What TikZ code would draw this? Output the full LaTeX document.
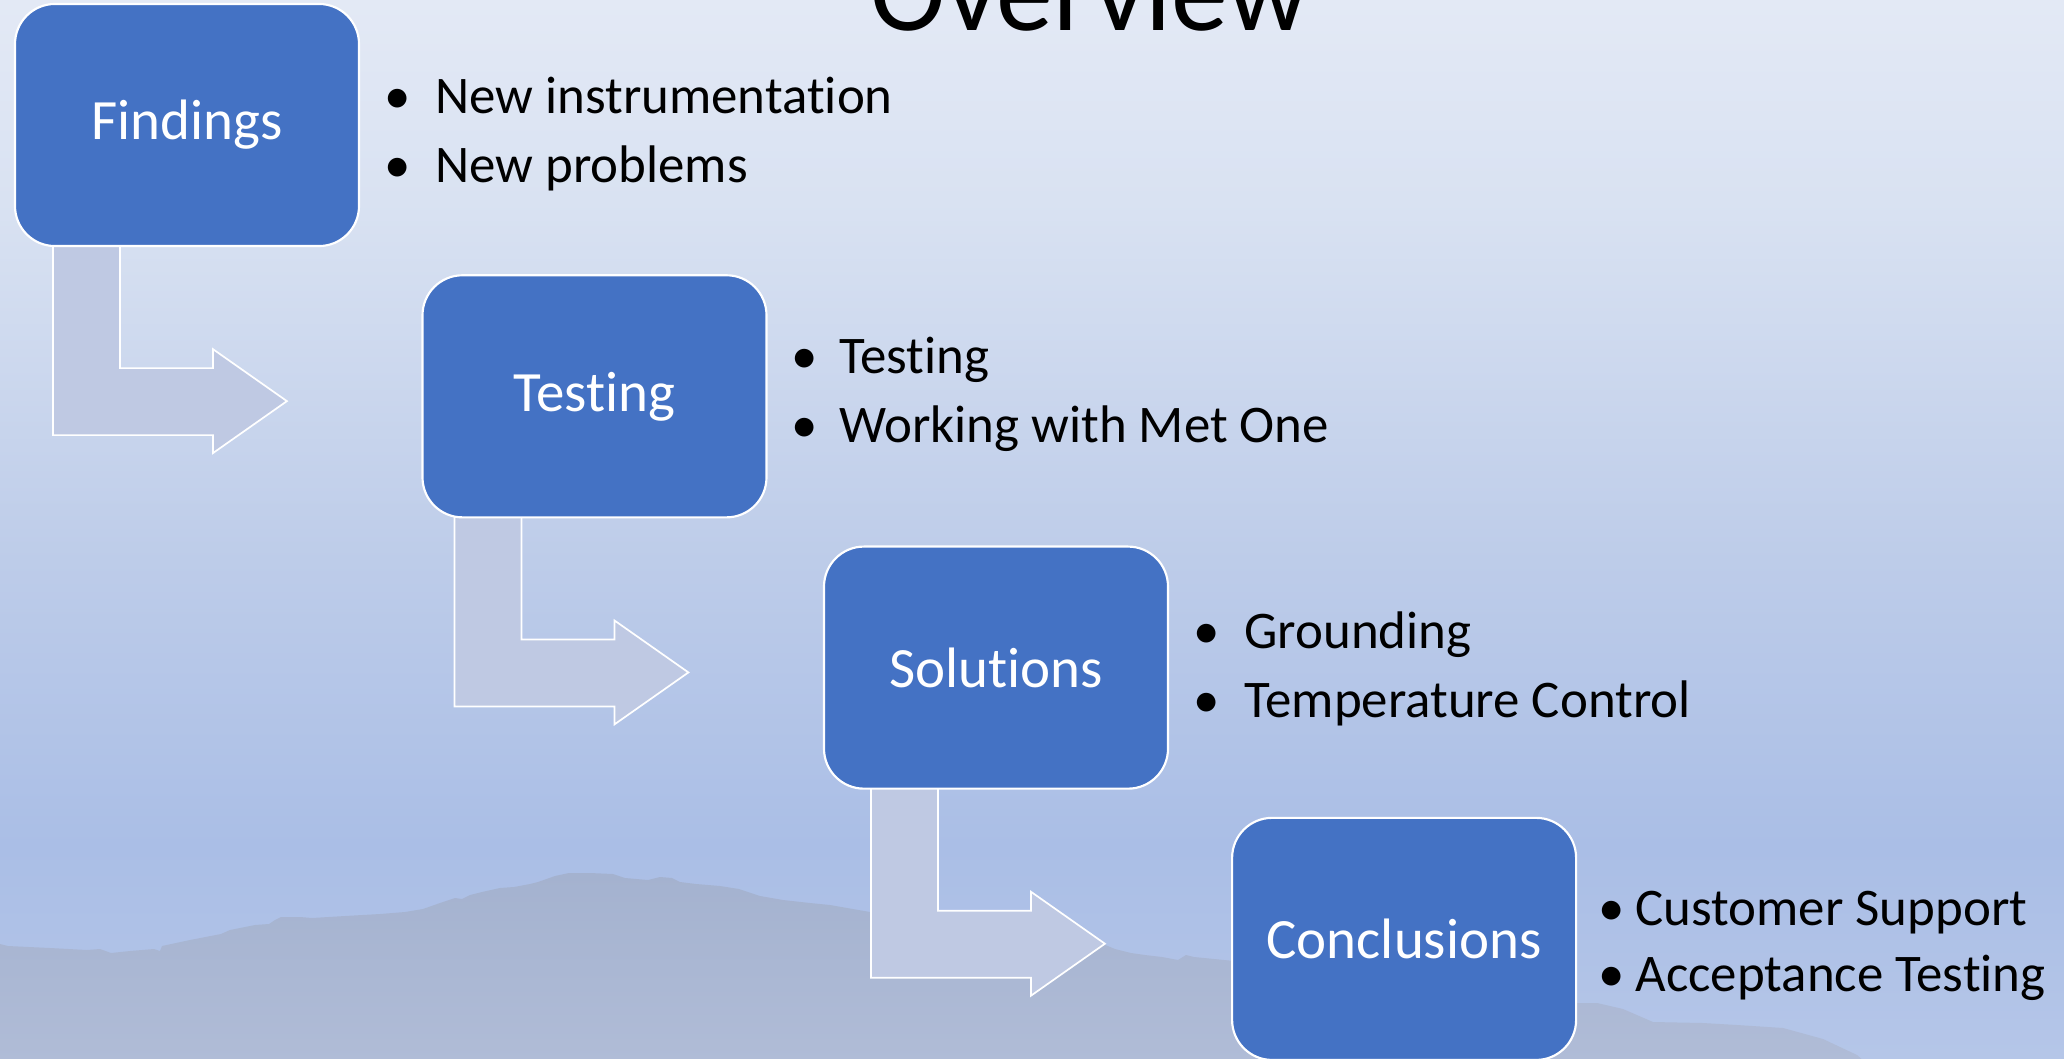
\documentclass[tikz,border=0pt]{standalone}
\usepackage{fontspec}
\setmainfont{Carlito}[RawFeature={-liga,-clig,-calt,-dlig}]
\usetikzlibrary{calc}
\definecolor{boxblue}{HTML}{4472C4}
\definecolor{arrowfill}{HTML}{BFC9E3}
\definecolor{bgA}{HTML}{E3E9F5}
\definecolor{bgB}{HTML}{D9E2F2}
\definecolor{bgC}{HTML}{BDCCE9}
\definecolor{bgD}{HTML}{AABEE6}
\definecolor{bgE}{HTML}{B5C6E8}
\definecolor{mtA}{HTML}{A4B2CF}
\definecolor{mtB}{HTML}{B0BCD7}
\pgfdeclareverticalshading{slidebg}{100bp}{color(0bp)=(bgE); color(25bp)=(bgE); color(35bp)=(bgD); color(48.5bp)=(bgC); color(65.5bp)=(bgB); color(75bp)=(bgA); color(100bp)=(bgA)}
\pgfdeclareverticalshading{mountainsh}{100bp}{color(0bp)=(mtB); color(25bp)=(mtB); color(75bp)=(mtA); color(100bp)=(mtA)}
\tikzset{
  stagebox/.style={draw=white, line width=1pt, fill=boxblue, rounded corners=18.6pt,
    minimum width=160pt, minimum height=112.6pt, inner sep=0pt, text=white,
    font=\fontsize{26.5}{32}\selectfont},
  bul/.style={anchor=base, inner sep=0pt, font=\fontsize{24.6}{29}\selectfont},
  btext/.style={anchor=base west, inner sep=0pt, font=\fontsize{24.6}{29}\selectfont},
  bentarrow/.style={fill=arrowfill, draw=white, line width=0.8pt, line join=miter},
  titletext/.style={anchor=base, inner sep=0pt, font=\fontsize{53}{60}\selectfont}
}
\begin{document}
\begin{tikzpicture}[x=0.465116pt, y=-0.465116pt]
\useasboundingbox (0,0) rectangle (2064,1058);
\clip (0,0) rectangle (2064,1058);
% background
\shade[shading=slidebg] (0,0) rectangle (2064,1058);
% mountain silhouette
\shade[shading=mountainsh] (0,944) -- (8,946) -- (50,948) -- (87,950) -- (100,949) -- (111,953) -- (130,951) -- (154,949) -- (160,951) -- (162,946) -- (190,940) -- (221,934) -- (230,930) -- (245,927) -- (255,925) -- (269,924) -- (275,920) -- (281,917) -- (300,917) -- (312,918) -- (345,916) -- (380,914) -- (405,912) -- (423,909) -- (440,903) -- (455,898) -- (462,899) -- (470,895) -- (482,892) -- (500,888) -- (514,887) -- (530,884) -- (538,882) -- (555,876) -- (569,873) -- (590,873) -- (613,874) -- (625,878) -- (648,880) -- (660,877) -- (672,878) -- (680,882) -- (696,884) -- (720,886) -- (739,889) -- (760,896) -- (783,900) -- (810,903) -- (830,905) -- (870,912) -- (950,925) -- (1040,936) -- (1103,944) -- (1115,949) -- (1131,953) -- (1145,955) -- (1162,957) -- (1178,960) -- (1186,955) -- (1194,957) -- (1234,961) -- (1400,985) -- (1577,1003) -- (1597,1003) -- (1623,1009) -- (1653,1022) -- (1703,1023) -- (1737,1025) -- (1783,1028) -- (1823,1039) -- (1857,1055) -- (1865,1062) -- (0,1062) -- cycle;
% title
\node[titletext] (title) at (1090,30) {Overview};
% stage box positions
\coordinate (p1) at (187,125);
\coordinate (p2) at (594.5,396.3);
\coordinate (p3) at (996,667.6);
\coordinate (p4) at (1404.1,938.9);
% bent arrows (drawn below the boxes, starting from each box's south-west corner)
\path (p1) node[stagebox, fill=none, draw=none] (g1) {}
      (p2) node[stagebox, fill=none, draw=none] (g2) {}
      (p3) node[stagebox, fill=none, draw=none] (g3) {};
\foreach \g/\dx in {g1/39,g2/33,g3/48}{
  \begin{scope}[shift={(\g.south west)}, xshift=\dx*0.465116pt]
    \draw[bentarrow] (0,-6) -- (0,188) -- (160,188) -- (160,206) -- (234,154) -- (160,102) -- (160,121) -- (67,121) -- (67,-6) -- cycle;
  \end{scope}
}
% boxes
\node[stagebox] (f1) at (p1) {Findings};
\node[stagebox] (f2) at (p2) {Testing};
\node[stagebox] (f3) at (p3) {Solutions};
\node[stagebox] (f4) at (p4) {Conclusions};
% bullets
\node[bul] (b1a) at (398,113) {•};
\node[btext] (t1a) at (435,113) {New instrumentation};
\node[bul] (b1b) at (398,182) {•};
\node[btext] (t1b) at (435,182) {New problems};
\node[bul] (b2a) at (805,373) {•};
\node[btext] (t2a) at (839,373) {Testing};
\node[bul] (b2b) at (805,442) {•};
\node[btext] (t2b) at (839,442) {Working with Met One};
\node[bul] (b3a) at (1207,648) {•};
\node[btext] (t3a) at (1244,648) {Grounding};
\node[bul] (b3b) at (1207,717) {•};
\node[btext] (t3b) at (1244,717) {Temperature Control};
\node[bul] (b4a) at (1612,925) {•};
\node[btext] (t4a) at (1635,925) {Customer Support};
\node[bul] (b4b) at (1612,991) {•};
\node[btext] (t4b) at (1635,991) {Acceptance Testing};
\end{tikzpicture}
\end{document}
